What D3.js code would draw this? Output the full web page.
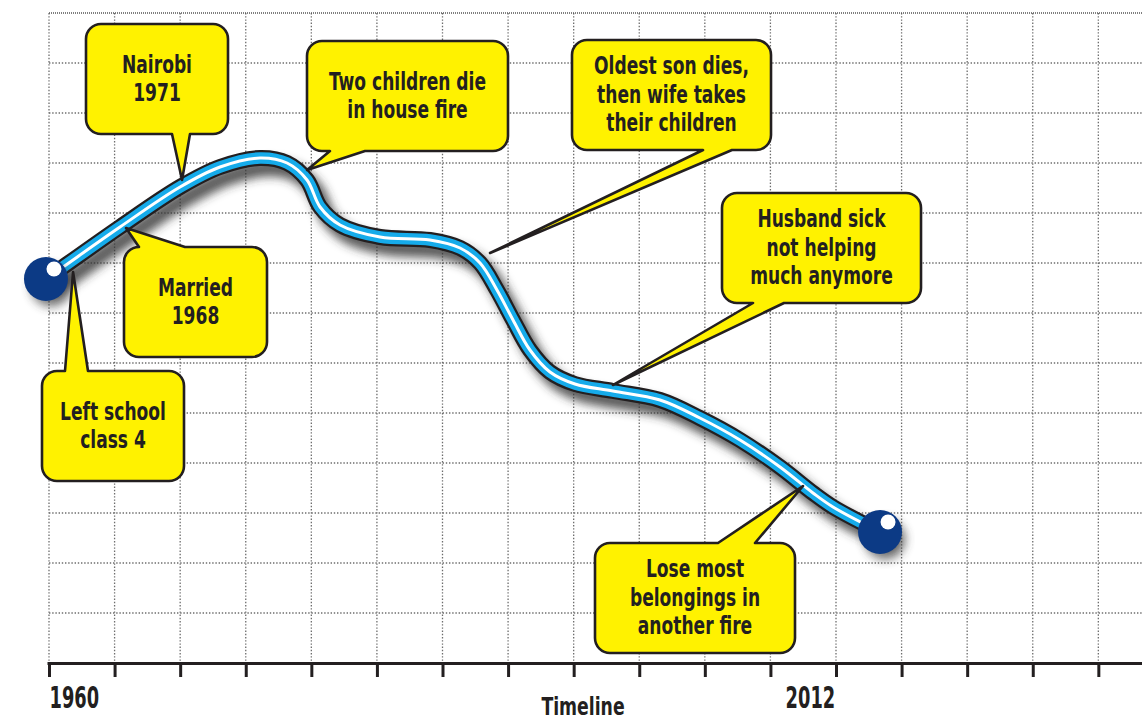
<!DOCTYPE html>
<html>
<head>
<meta charset="utf-8">
<script src="https://cdn.jsdelivr.net/npm/d3@7"></script>
<style>
  html, body { margin: 0; padding: 0; background: #fff; overflow: hidden; }
  svg { display: block; }
  text { font-family: "Liberation Sans Narrow", "DejaVu Sans Condensed", "DejaVu Sans", sans-serif; font-weight: bold; fill: #231f20; }
</style>
</head>
<body>
<svg id="chart"></svg>
<script>
// life line (year on the timeline, wellbeing level)
const lifeYears  = [1959.8, 1960.93, 1964.69, 1968.66, 1971.3, 1973.94, 1975.73, 1977.05, 1977.91, 1979.23,
                    1981.87, 1985.17, 1987.16, 1988.48, 1989.6, 1990.66, 1991.78, 1993.1, 1994.75, 1997.26,
                    2000.37, 2003.01, 2005.66, 2008.3, 2010.48, 2011.8, 2014.91];
const lifeValues = [7.68, 7.92, 8.72, 9.52, 9.92, 10.1, 10.0, 9.66, 9.12, 8.76,
                    8.52, 8.46, 8.3, 8.0, 7.46, 6.86, 6.26, 5.82, 5.58, 5.44,
                    5.26, 4.9, 4.46, 3.92, 3.4, 3.12, 2.62];

// events pointing at the line
const eventLabels = [
  ["Nairobi", "1971"],
  ["Two children die", "in house fire"],
  ["Oldest son dies,", "then wife takes", "their children"],
  ["Married", "1968"],
  ["Left school", "class 4"],
  ["Husband sick", "not helping", "much anymore"],
  ["Lose most", "belongings in", "another fire"]
];
const eventYears  = [1968.79, 1977.05, 1989.14, 1965.09, 1961.59, 1997.26, 2009.82];
const eventValues = [9.66, 9.86, 8.2, 8.7, 7.82, 5.56, 3.54];

// timeline ticks
const tickCount = 17;
const tickLabels = ["1960", "", "", "", "", "", "", "", "", "", "", "", "2012", "", "", "", ""];
const axisTitle = "Timeline";

// callout box layout (pixels)
const boxLayout = [
  { left: 86,  top: 24,  w: 142, side: "bottom", b1: 172, b2: 190 },
  { left: 307, top: 41,  w: 201, side: "bottom", b1: 330, b2: 365 },
  { left: 572, top: 40,  w: 199, side: "bottom", b1: 703, b2: 732 },
  { left: 124, top: 247, w: 143, side: "top",    b1: 139, b2: 185 },
  { left: 42,  top: 371, w: 142, side: "top",    b1: 65,  b2: 88 },
  { left: 722, top: 193, w: 199, side: "bottom", b1: 753, b2: 784 },
  { left: 595, top: 543, w: 200, side: "top",    b1: 718, b2: 755 }
];
const boxH = 110, boxR = 15;
const squeeze = 0.76; // the original type is a condensed face

const width = 1142, height = 722;

const svg = d3.select("#chart").attr("width", width).attr("height", height);

const x = d3.scaleLinear().domain([1960, 2012]).range([49, 836]);
const y = d3.scaleLinear().domain([0, 13]).range([663, 13]);

const tickYears = d3.range(tickCount).map(i => 1960 + i * (2012 - 1960) / 12);

// grid
const grid = svg.append("g");
grid.selectAll("line.v").data(tickYears).join("line")
  .attr("x1", d => x(d)).attr("x2", d => x(d))
  .attr("y1", y(13)).attr("y2", y(0))
  .attr("stroke", "#6d6d6d").attr("stroke-width", 1.3).attr("stroke-dasharray", "1.4,1.8");
grid.selectAll("line.h").data(d3.range(1, 14)).join("line")
  .attr("x1", x(1960)).attr("x2", width)
  .attr("y1", d => y(d)).attr("y2", d => y(d))
  .attr("stroke", d => d === 13 ? "#555" : "#6d6d6d")
  .attr("stroke-width", 1.3)
  .attr("stroke-dasharray", d => d === 13 ? "1,1" : "1.4,1.8");

// axis
const axisScale = x.copy().domain([x.invert(47), x.invert(width)]).range([47, width]);
const axis = svg.append("g")
  .attr("transform", `translate(0,${y(0)})`)
  .call(d3.axisBottom(axisScale).tickValues(tickYears).tickFormat((d, i) => tickLabels[i]).tickSize(14).tickSizeOuter(0));
axis.select(".domain").attr("stroke", "#231f20").attr("stroke-width", 3);
axis.selectAll(".tick line").attr("stroke", "#231f20").attr("stroke-width", 3);
axis.selectAll(".tick text")
  .attr("y", 45).attr("dy", null)
  .style("font-family", "'Liberation Sans Narrow', 'DejaVu Sans Condensed', 'DejaVu Sans', sans-serif")
  .style("font-weight", "bold").style("font-size", "30px").attr("fill", "#231f20")
  .attr("text-anchor", (d, i) => i === 0 ? "start" : "end")
  .attr("x", (d, i) => i === 0 ? 0 : -2)
  .attr("transform", "scale(0.66,1)");

svg.append("text")
  .attr("transform", `translate(583,715) scale(0.8,1)`)
  .attr("text-anchor", "middle")
  .style("font-size", "24px")
  .text(axisTitle);

// life line (tube with shadow)
const pts = lifeYears.map((d, i) => [x(d), y(lifeValues[i])]);
const line = d3.line().curve(d3.curveCatmullRom.alpha(0.5));

const defs = svg.append("defs");
defs.append("filter").attr("id", "blur").attr("x", "-20%").attr("y", "-20%").attr("width", "140%").attr("height", "140%")
  .append("feGaussianBlur").attr("stdDeviation", 5);

svg.append("path")
  .attr("d", line(pts))
  .attr("transform", "translate(8,10)")
  .attr("fill", "none").attr("stroke", "#333").attr("stroke-width", 17)
  .attr("stroke-opacity", 0.8).attr("stroke-linecap", "round")
  .attr("filter", "url(#blur)");

[[16, "#231f20"], [11.5, "#16abea"], [3, "#ffffff"]].forEach(([w, c]) => {
  svg.append("path")
    .attr("d", line(pts))
    .attr("fill", "none").attr("stroke", c).attr("stroke-width", w)
    .attr("stroke-linejoin", "round");
});

// end knobs
const ends = [pts[0], pts[pts.length - 1]];
svg.selectAll("circle.shadow").data(ends).join("circle")
  .attr("cx", d => d[0] + 5).attr("cy", d => d[1] + 7).attr("r", 21)
  .attr("fill", "#333").attr("opacity", 0.6).attr("filter", "url(#blur)");
svg.selectAll("circle.knob").data(ends).join("circle")
  .attr("cx", d => d[0]).attr("cy", d => d[1]).attr("r", 22)
  .attr("fill", "#0c3a85");
svg.selectAll("circle.hi").data(ends).join("circle")
  .attr("cx", d => d[0] + 8).attr("cy", d => d[1] - 10).attr("r", 7.5)
  .attr("fill", "#fff");

// callouts
function calloutPath(b, tip) {
  const l = b.left, t = b.top, r = b.left + b.w, btm = b.top + boxH, k = boxR;
  const p = d3.path();
  p.moveTo(l + k, t);
  if (b.side === "top") { p.lineTo(b.b1, t); p.lineTo(tip[0], tip[1]); p.lineTo(b.b2, t); }
  p.lineTo(r - k, t);
  p.arcTo(r, t, r, t + k, k);
  p.lineTo(r, btm - k);
  p.arcTo(r, btm, r - k, btm, k);
  if (b.side === "bottom") { p.lineTo(b.b2, btm); p.lineTo(tip[0], tip[1]); p.lineTo(b.b1, btm); }
  p.lineTo(l + k, btm);
  p.arcTo(l, btm, l, btm - k, k);
  p.lineTo(l, t + k);
  p.arcTo(l, t, l + k, t, k);
  p.closePath();
  return p.toString();
}

const callouts = svg.append("g").selectAll("g").data(eventLabels).join("g");
callouts.append("path")
  .attr("d", (d, i) => calloutPath(boxLayout[i], [x(eventYears[i]), y(eventValues[i])]))
  .attr("fill", "#fff200").attr("stroke", "#231f20").attr("stroke-width", 2.6)
  .attr("stroke-linejoin", "round");
callouts.each(function (lines, i) {
  const b = boxLayout[i];
  const cx = b.left + b.w / 2, cy = b.top + boxH / 2;
  const first = cy + 8 - (lines.length - 1) * 14.25;
  const t = d3.select(this).append("text")
    .attr("transform", `translate(${cx},0) scale(${squeeze},1)`)
    .attr("text-anchor", "middle")
    .style("font-size", "25px");
  lines.forEach((s, j) => {
    t.append("tspan").attr("x", 0).attr("y", first + j * 28.5).text(s);
  });
});
</script>
</body>
</html>
